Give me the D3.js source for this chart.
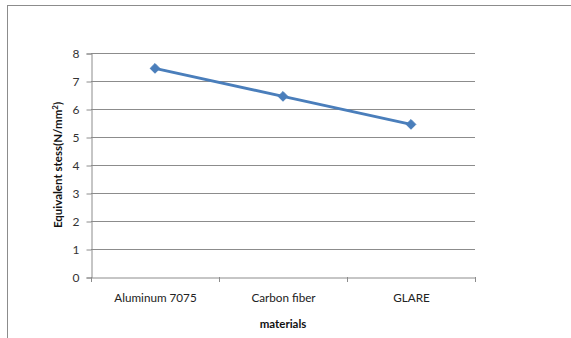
<!DOCTYPE html>
<html><head><meta charset="utf-8">
<script src="https://cdn.jsdelivr.net/npm/d3@7"></script>
<style>body{margin:0;background:#fff;}svg{display:block;font-family:Lato,"Open Sans",sans-serif;}</style>
</head><body>
<svg id="c" width="571" height="338"></svg>
<script>
const categories = ["Aluminum 7075", "Carbon fiber", "GLARE"];
const values = [7.45, 6.45, 5.45];
const yTicks = [0, 1, 2, 3, 4, 5, 6, 7, 8];

const svg = d3.select("#c");
// outer frame
svg.append("rect").attr("x", 7.5).attr("y", 5.5).attr("width", 600).attr("height", 400)
  .attr("fill", "none").attr("stroke", "#8c8c8c").attr("stroke-width", 1);

const L = 91, R = 475, T = 53, B = 277;
const x = d3.scaleBand().domain(categories).range([L, R]);
const y = d3.scaleLinear().domain([0, 8]).range([B, T]);

// gridlines
svg.append("g").selectAll("line").data(yTicks.filter(d => d > 0)).join("line")
  .attr("x1", L).attr("x2", R).attr("y1", d => Math.round(y(d)) + 0.5).attr("y2", d => Math.round(y(d)) + 0.5)
  .attr("stroke", "#8c8c8c").attr("stroke-width", 1);

// y axis
const ya = svg.append("g").attr("transform", `translate(${L + 0.5},0.5)`)
  .call(d3.axisLeft(y).tickValues(yTicks).tickSize(5).tickPadding(7).tickFormat(d3.format("d")));
ya.selectAll("path,line").attr("stroke", "#8c8c8c");
ya.selectAll("text").attr("font-size", 12).attr("fill", "#333").attr("font-family", "Lato");

// x axis
const xa = svg.append("g").attr("transform", `translate(0.5,${B + 0.5})`)
  .call(d3.axisBottom(x).tickSize(0).tickPadding(16));
xa.select("path").attr("stroke", "#8c8c8c");
xa.selectAll("text").attr("font-size", 11.7).attr("fill", "#222").attr("font-family", "Lato");
// x tick marks at band edges
const edges = categories.map(c => x(c)).concat([R]);
svg.append("g").selectAll("line").data(edges).join("line")
  .attr("x1", d => Math.round(d) + 0.5).attr("x2", d => Math.round(d) + 0.5)
  .attr("y1", B).attr("y2", B + 5).attr("stroke", "#8c8c8c");

// line
const cx = c => x(c) + x.bandwidth() / 2;
const data = categories.map((c, i) => ({c, v: values[i]}));
svg.append("path").datum(data)
  .attr("d", d3.line().x(d => cx(d.c)).y(d => y(d.v)))
  .attr("fill", "none").attr("stroke", "#4a7ebb").attr("stroke-width", 3).attr("stroke-linejoin", "round");
svg.append("g").selectAll("path").data(data).join("path")
  .attr("transform", d => `translate(${cx(d.c)},${y(d.v)})`)
  .attr("d", d3.symbol(d3.symbolDiamond2, 60)())
  .attr("fill", "#4a7ebb").attr("stroke", "#4a7ebb").attr("stroke-width", 1);

// axis titles
svg.append("text").attr("x", 283).attr("y", 328).attr("text-anchor", "middle")
  .attr("font-size", 11.5).attr("font-weight", "bold").attr("fill", "#111").text("materials");
const yt = svg.append("text").attr("transform", "translate(62,165) rotate(-90)").attr("text-anchor", "middle")
  .attr("font-size", 11.5).attr("font-weight", "bold").attr("fill", "#111");
yt.append("tspan").text("Equivalent stess(N/mm");
yt.append("tspan").attr("font-size", 8).attr("dy", -4).text("2");
yt.append("tspan").attr("dy", 4).text(")");
</script>
</body></html>
